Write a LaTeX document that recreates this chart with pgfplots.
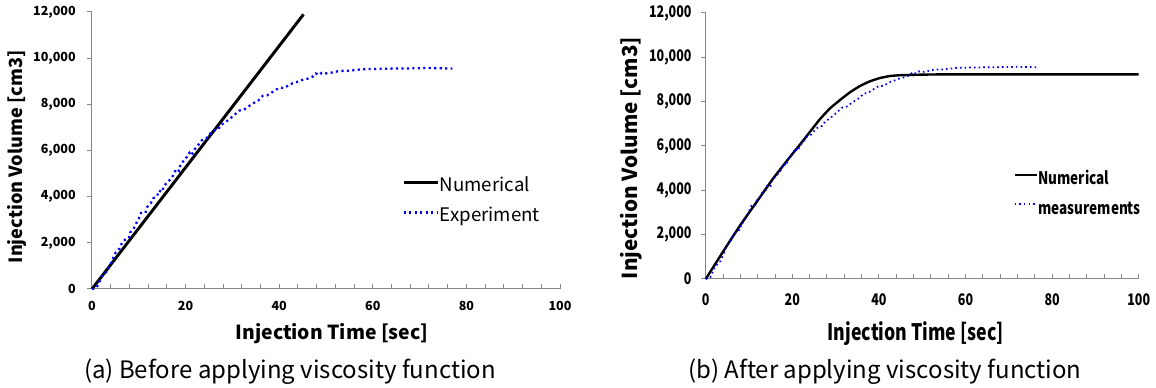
\documentclass[border=0pt]{standalone}
\usepackage{pgfplots}
\pgfplotsset{compat=1.18}
\usepackage{fontspec}
\setmainfont{Noto Sans CJK KR}
\newfontfamily\narrowfont[FakeStretch=0.78]{Noto Sans CJK KR}
\definecolor{axgray}{RGB}{134,134,134}
\definecolor{dotblue}{RGB}{0,0,255}

\pgfplotstableread{
x y
0 0
1 58
1.6 318
2.1 549
3.4 809
4.4 1272
4.8 1517
5.9 1763
6.4 1994
7.3 2182
7.9 2211
8.2 2456
8.9 2615
9.4 2832
10 3049
10.5 3295
11.4 3295
11.8 3555
12.6 3728
13.1 3930
13.9 4017
14.3 4263
15 4205
15.3 4451
16.2 4638
17.1 4826
17.6 5029
18 5202
18.6 5115
18.9 5361
19.2 5477
19.8 5578
20.8 5896
21.2 5780
21.9 6040
22.6 6214
23.4 6430
24.4 6517
25.4 6763
26.2 6878
26.9 6907
27.6 7109
28.6 7239
29.6 7398
30.6 7572
31.5 7731
32.5 7774
33.6 7933
34.6 8063
35.6 8179
36.5 8370
37.4 8385
38.4 8513
39.4 8645
40.2 8720
41.0 8703
42.1 8833
42.8 8906
43.7 8963
44.8 9049
46.0 9106
47.1 9193
47.8 9339
48.5 9266
49.1 9366
50.1 9339
51.4 9383
52.4 9427
53.7 9453
54.9 9453
56.2 9483
57.4 9513
58.6 9526
59.9 9526
61.2 9540
62.4 9540
63.7 9545
64.9 9555
66.1 9555
67.4 9555
68.7 9560
69.9 9560
71.1 9570
72.4 9570
73.7 9565
74.9 9560
76.0 9555
77.0 9550
}\experiment

\pgfplotstableread{
x y
0 0
45.2 11900
}\numa

\pgfplotstableread{
x y
0 0
4.1 1263
7.9 2406
11.8 3489
15.6 4542
19.5 5517
21.8 6073
24.1 6645
26.4 7216
28.7 7697
31.0 8073
33.3 8420
35.6 8704
37.9 8916
40.2 9065
42.5 9155
44.4 9187
47.9 9210
55.7 9230
100 9230
}\numb

\pgfplotsset{
  myaxis/.style={
    scale only axis, clip=false,
    xmin=0, xmax=100, ymin=0, ymax=12000,
    axis x line*=bottom, axis y line*=left,
    axis line style={draw=axgray, line width=0.75pt, -},
    xtick={0,20,...,100},
    minor xtick={4,8,12,16,24,28,32,36,44,48,52,56,64,68,72,76,84,88,92,96},
    ytick={0,2000,...,12000},
    scaled y ticks=false, scaled x ticks=false,
    tick align=inside,
    major tick length=3.5pt, minor tick length=3.5pt,
    every tick/.style={draw=axgray, line width=0.75pt},
    every minor tick/.style={draw=axgray, line width=0.75pt},
    ytick style={xshift=-3.5pt},
    /pgf/number format/.cd, 1000 sep={,}, assume math mode=true, /pgfplots/.cd,
    legend cell align=left,
  }
}

\begin{document}
\begin{tikzpicture}
\useasboundingbox (0pt,0pt) rectangle (867pt,291pt);

% ---------------- (a) ----------------
\begin{axis}[myaxis,
  at={(69pt,74.25pt)}, anchor=south west,
  width=351pt, height=207.75pt,
  tick label style={font=\bfseries\fontsize{9.4}{10}\selectfont},
  yticklabel style={anchor=east, inner sep=0pt, xshift=-12pt},
  xticklabel style={anchor=center, inner sep=0pt, yshift=-12.75pt},
  xlabel={Injection Time [sec]},
  ylabel={Injection Volume [cm3]},
  xlabel style={at={(axis description cs:0.5128,-0.1625)}, anchor=center, font=\bfseries\fontsize{14.5}{15}\selectfont},
  ylabel style={at={(axis description cs:-0.1607,0.4765)}, anchor=center, font=\bfseries\fontsize{13.6}{14}\selectfont},
  legend style={draw=none, fill=none, at={(axis description cs:0.6624,0.400)}, anchor=north west,
    inner sep=0pt, font=\fontsize{14}{14}\selectfont, row sep=9.5pt,
    nodes={inner sep=0pt, text height=10pt, text depth=3pt},
    /tikz/every even column/.append style={column sep=3pt}},
  legend image code/.code={\draw[#1] (0pt,3.5pt) -- (26pt,3.5pt);},
]
\addplot[black, line width=2.2pt] table[x=x,y=y] {\numa};
\addlegendentry{Numerical}
\addplot[dotblue, line width=1.7pt, dash pattern=on 1.6pt off 2.5pt] table[x=x,y=y] {\experiment};
\addlegendentry{Experiment}
\node[font=\fontsize{18}{18}\selectfont, anchor=center] at (axis description cs:0.423,-0.2996) {(a) Before applying viscosity function};
\end{axis}

% ---------------- (b) ----------------
\begin{axis}[myaxis,
  at={(529.3pt,81.75pt)}, anchor=south west,
  width=324.75pt, height=199.5pt,
  tick label style={font=\narrowfont\bfseries\fontsize{12}{12}\selectfont},
  yticklabel style={anchor=east, inner sep=0pt, xshift=-10.5pt},
  xticklabel style={anchor=center, inner sep=0pt, yshift=-15.75pt},
  xlabel={Injection Time [sec]},
  ylabel={Injection Volume [cm3]},
  xlabel style={at={(axis description cs:0.485,-0.2046)}, anchor=center, font=\narrowfont\bfseries\fontsize{17}{17}\selectfont},
  ylabel style={at={(axis description cs:-0.1716,0.4548)}, anchor=center, font=\bfseries\fontsize{15.5}{16}\selectfont},
  legend style={draw=none, fill=none, at={(axis description cs:0.7097,0.405)}, anchor=north west,
    inner sep=0pt, font=\narrowfont\bfseries\fontsize{13}{13}\selectfont, row sep=9pt,
    nodes={inner sep=0pt, text height=10pt, text depth=3pt},
    /tikz/every even column/.append style={column sep=1.5pt}},
  legend image code/.code={\draw[#1] (0pt,4pt) -- (17pt,4pt);},
]
\addplot[black, line width=1.8pt, smooth, tension=0.3] table[x=x,y=y] {\numb};
\addlegendentry{Numerical}
\addplot[dotblue, line width=1.3pt, dash pattern=on 1.2pt off 2.3pt] table[x=x,y=y] {\experiment};
\addlegendentry{measurements}
\node[font=\fontsize{18}{18}\selectfont, anchor=center] at (axis description cs:0.414,-0.3478) {(b) After applying viscosity function};
\end{axis}
\end{tikzpicture}
\end{document}
